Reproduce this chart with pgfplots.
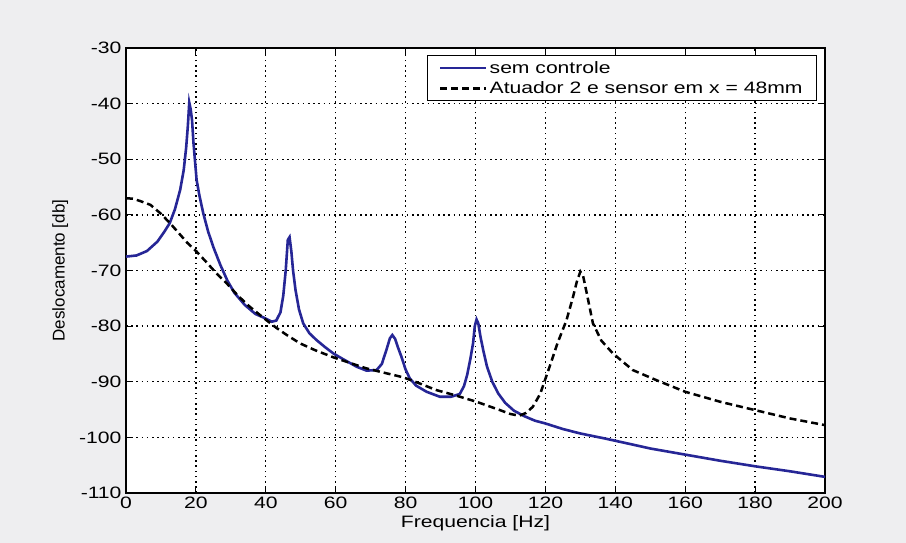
\documentclass[border=0pt]{standalone}
\usepackage{fontspec}
\setmainfont{Liberation Sans}[FakeStretch=1.28]
\newfontfamily\ylabfont{Liberation Sans}
\usepackage{pgfplots}
\pgfplotsset{compat=1.18}
\definecolor{bgc}{RGB}{238,238,240}
\definecolor{curveblue}{RGB}{38,38,150}
\newcommand{\ff}{\fontsize{16.5}{20}\selectfont}
\begin{document}
\begin{tikzpicture}
\fill[bgc] (0,0) rectangle (906pt,543pt);
\begin{axis}[
  at={(126pt,50pt)}, anchor=south west,
  width=699pt, height=445pt, scale only axis,
  xmin=0, xmax=200, ymin=-110, ymax=-30,
  xtick={0,20,...,200}, ytick={-110,-100,...,-30},
  axis background/.style={fill=white},
  grid=major,
  major grid style={black, dash pattern=on 1.6pt off 3.6pt, line width=1.3pt},
  tick align=inside, major tick length=7pt,
  axis line style={black, line width=1.1pt},
  tick style={black, line width=1.1pt},
  /pgf/number format/assume math mode=true,
  ticklabel style={font=\ff},
  yticklabel style={xshift=-1pt},
  xlabel={Frequencia [Hz]},
  ylabel={Deslocamento [db]},
  x label style={font=\ff, at={(axis description cs:0.5,-0.067)}, anchor=center},
  y label style={font=\ylabfont\fontsize{17}{20}\selectfont, at={(axis description cs:-0.094,0.5)}, anchor=center},
  legend style={draw=black, line width=1pt, fill=white, font=\ff,
    at={(0.9886,0.984)}, anchor=north east, inner xsep=12pt, inner ysep=3.5pt,
    row sep=3pt},
  legend cell align=left,
  legend image code/.code={\path (0pt,0pt) -- (46pt,0pt); \draw[#1] (0pt,0pt) -- (38pt,0pt);},
]
\addplot[curveblue, line width=2.6pt] coordinates {
(0,-67.5) (3,-67.3) (6,-66.5) (9,-64.8) (11,-63.0) (12.5,-61.5) (14,-59) (15.5,-55.5)
(16.5,-52) (17.2,-48) (17.7,-44) (18.1,-39.8) (18.5,-41) (18.9,-43) (19.3,-47)
(19.7,-50) (20.2,-53.7) (21,-56.5) (22.1,-59.7) (23.5,-63) (25,-65.8) (27,-69)
(29,-71.8) (31,-74) (34,-76.2) (37,-77.8) (39.5,-78.5) (41.7,-79.2) (43,-79)
(44.2,-77.5) (45,-74.5) (45.7,-70) (46.3,-64.5) (46.8,-64) (47.3,-66.5) (47.8,-70)
(48.5,-73.5) (49.5,-77) (50.7,-79.5) (52.5,-81.3) (54.5,-82.5) (57,-83.8) (59.3,-84.9)
(62,-85.9) (66,-87.3) (68.8,-88) (71.7,-87.9) (73.2,-86.8) (74.5,-84.3) (75.5,-82.2)
(76.2,-81.6) (77,-82.3) (77.8,-83.8) (78.8,-85.5) (80,-87.8) (81.2,-89.4) (83,-90.7)
(86,-91.8) (89.8,-92.7) (93,-92.7) (95.5,-92.2) (96.7,-90.8) (97.6,-88.8) (98.5,-86)
(99.3,-83.1) (99.8,-80) (100.3,-78.8) (100.8,-79.5) (101.4,-81.8) (102.2,-84.3)
(103.3,-87.3) (104.8,-90) (106.5,-92.1) (108.5,-93.8) (111,-95.2) (114,-96.2)
(117,-97) (120,-97.5) (125,-98.5) (130,-99.3) (137,-100.2) (145,-101.3) (150,-102)
(160,-103.1) (170,-104.2) (180,-105.2) (190,-106.1) (200,-107.1)
};
\addlegendentry{sem controle}
\addplot[black, line width=2.5pt, dash pattern=on 7pt off 4pt] coordinates {
(0,-57) (2,-57.1) (4,-57.5) (7,-58.2) (10,-59.8) (12.6,-61.5) (15,-63.2) (17.5,-65)
(20.2,-66.6) (23,-68.5) (26,-70.6) (28.8,-72.3) (32,-74.5) (35,-76.3) (39.3,-78.5)
(43,-80.3) (46,-81.6) (49.8,-83.1) (54,-84.3) (59.3,-85.6) (64,-86.6) (68.8,-87.6)
(74,-88.4) (79.3,-89.2) (84,-90.3) (88.8,-91.5) (94,-92.4) (100.3,-93.6) (107,-95.1)
(110,-95.8) (112.5,-96.1) (114.5,-95.6) (116.4,-94.5) (118.5,-92.2) (121.2,-87.3)
(123.5,-83) (126,-79) (127.8,-75) (129,-72) (130,-70.2) (130.8,-71) (131.8,-74)
(133.6,-79.5) (136,-82.6) (139.3,-84.9) (145,-87.9) (151.7,-89.7) (160,-91.8)
(170,-93.6) (180,-95.1) (190,-96.6) (200,-97.8)
};
\addlegendentry{Atuador 2 e sensor em x = 48mm\hspace{11pt}}
\end{axis}
\end{tikzpicture}
\end{document}
